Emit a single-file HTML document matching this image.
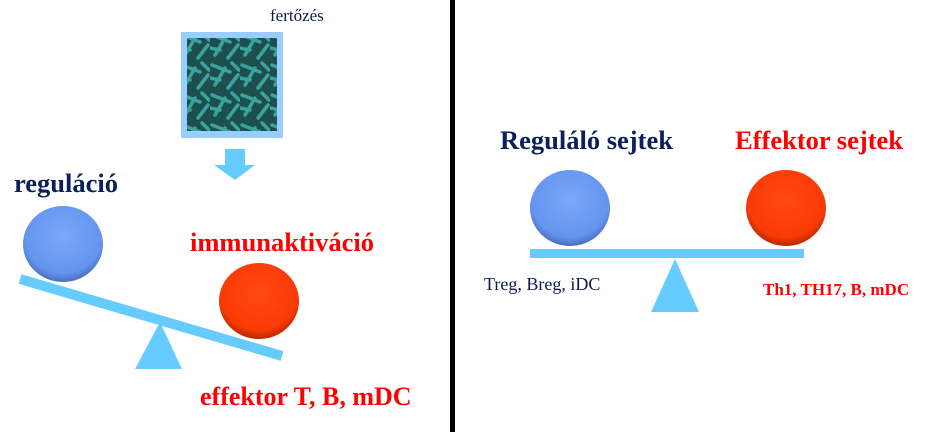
<!DOCTYPE html>
<html><head><meta charset="utf-8"><style>
body{margin:0;width:933px;height:432px;background:#fff;overflow:hidden;position:relative;font-family:"Liberation Serif",serif}
.t{position:absolute;white-space:nowrap;line-height:1}
</style></head><body>
<svg width="933" height="432" style="position:absolute;left:0;top:0">
<defs>
<radialGradient id="b" cx="50%" cy="40%" r="60%"><stop offset="0" stop-color="#7aa7f8"/><stop offset="0.8" stop-color="#6495ef"/><stop offset="1" stop-color="#4a6fbf"/></radialGradient>
<radialGradient id="r" cx="50%" cy="40%" r="60%"><stop offset="0" stop-color="#ff4a10"/><stop offset="0.8" stop-color="#fb3a06"/><stop offset="1" stop-color="#b82a00"/></radialGradient>
<pattern id="p" width="30" height="30" patternUnits="userSpaceOnUse">
<rect width="30" height="30" fill="#1d4f4f"/>
<path d="M2 5 L20 12 M5 25 L15 8 M18 28 L28 15 M22 3 L29 10 M0 18 L10 20" stroke="#3aa39d" stroke-width="3.5" stroke-linecap="round"/>
</pattern>
</defs>
<rect x="181" y="32" width="102" height="106" fill="#99ccff"/>
<rect x="187" y="38" width="90" height="93" fill="url(#p)"/>
<path d="M225 149 H245 V165 H255 L235 180 L214 165 H225 Z" fill="#66ccff"/>
<line x1="20" y1="279" x2="282" y2="356" stroke="#66ccff" stroke-width="10"/>
<polygon points="160,322 182,369 135,369" fill="#66ccff"/>
<ellipse cx="63" cy="244" rx="40" ry="38" fill="url(#b)"/>
<ellipse cx="259" cy="301" rx="40" ry="38" fill="url(#r)"/>
<rect x="450" y="0" width="5" height="432" fill="#000"/>
<rect x="530" y="249" width="274" height="9" fill="#66ccff"/>
<polygon points="675,259 699,312 651,312" fill="#66ccff"/>
<ellipse cx="570" cy="208" rx="40" ry="38" fill="url(#b)"/>
<ellipse cx="786" cy="208" rx="40" ry="38" fill="url(#r)"/>
</svg>
<div class="t" style="left:270px;top:7px;font-size:17px;color:#0a1a4a">fertőzés</div>
<div class="t" style="left:14px;top:170px;font-size:26.5px;font-weight:bold;color:#0a1f5c">reguláció</div>
<div class="t" style="left:190px;top:229px;font-size:26.5px;font-weight:bold;color:#f00">immunaktiváció</div>
<div class="t" style="left:200px;top:384px;font-size:26px;font-weight:bold;color:#f00">effektor T, B, mDC</div>
<div class="t" style="left:500px;top:127px;font-size:26.5px;font-weight:bold;color:#0a1f5c">Reguláló sejtek</div>
<div class="t" style="left:735px;top:127px;font-size:26.5px;font-weight:bold;color:#f00">Effektor sejtek</div>
<div class="t" style="left:484px;top:275px;font-size:18px;color:#0a1a4a">Treg, Breg, iDC</div>
<div class="t" style="left:763px;top:281px;font-size:17px;font-weight:bold;color:#f00">Th1, TH17, B, mDC</div>
</body></html>
